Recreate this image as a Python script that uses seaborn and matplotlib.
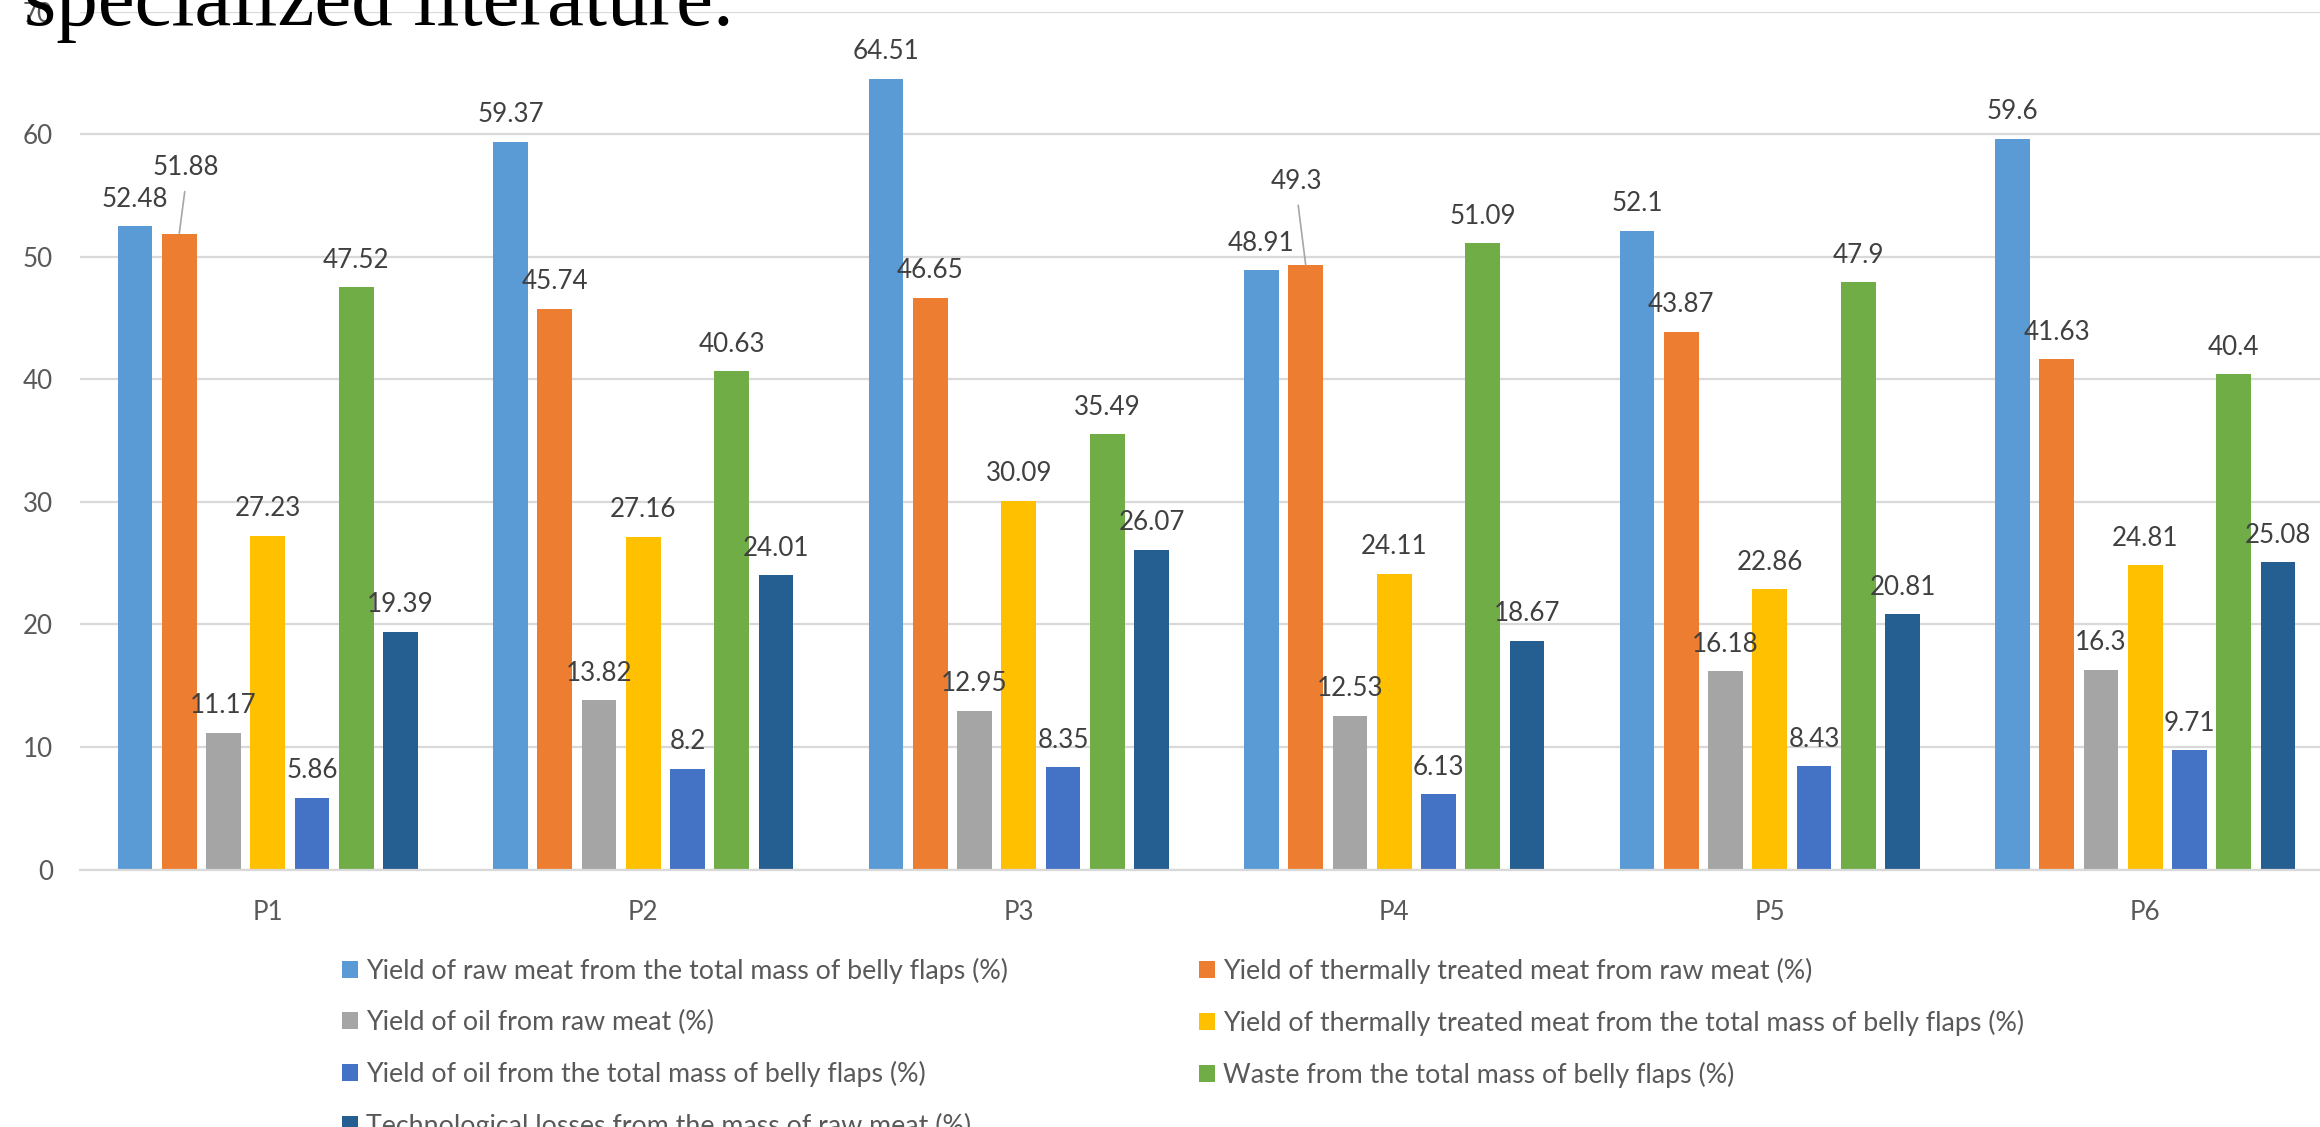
import numpy as np
import pandas as pd
import matplotlib
matplotlib.use("Agg")
import matplotlib.pyplot as plt
import seaborn as sns
from matplotlib.patches import Patch

# ---- data -------------------------------------------------------------
periods = ["P1", "P2", "P3", "P4", "P5", "P6"]

series_names = [
    "Yield of raw meat from the total mass of belly flaps (%)",
    "Yield of thermally treated meat from raw meat (%)",
    "Yield of oil from raw meat (%)",
    "Yield of thermally treated meat from the total mass of belly flaps (%)",
    "Yield of oil from the total mass of belly flaps (%)",
    "Waste from the total mass of belly flaps (%)",
    "Technological losses from the mass of raw meat (%)",
]

raw_meat_yield = [52.48, 59.37, 64.51, 48.91, 52.1, 59.6]
treated_from_raw = [51.88, 45.74, 46.65, 49.3, 43.87, 41.63]
oil_from_raw = [11.17, 13.82, 12.95, 12.53, 16.18, 16.3]
treated_from_total = [27.23, 27.16, 30.09, 24.11, 22.86, 24.81]
oil_from_total = [5.86, 8.2, 8.35, 6.13, 8.43, 9.71]
waste_from_total = [47.52, 40.63, 35.49, 51.09, 47.9, 40.4]
tech_losses = [19.39, 24.01, 26.07, 18.67, 20.81, 25.08]

series_values = [raw_meat_yield, treated_from_raw, oil_from_raw,
                 treated_from_total, oil_from_total, waste_from_total,
                 tech_losses]

colors = ["#5B9BD5", "#ED7D31", "#A5A5A5", "#FFC000",
          "#4472C4", "#70AD47", "#255E91"]

# labels lifted off their bar (with a leader line): (series, period) -> (dx px, extra lift px)
lifted_labels = {(1, "P1"): (7, 39), (1, "P4"): (-9, 57)}

# ---- figure -----------------------------------------------------------
W, H, DPI = 2320, 1127, 100
PX = 72.0 / DPI  # points per pixel

df = pd.DataFrame({
    "period": np.repeat(periods, len(series_names)),
    "series": series_names * len(periods),
    "value": [series_values[s][p] for p in range(len(periods))
              for s in range(len(series_names))],
})

sns.set_style("white")
plt.rcParams["font.family"] = ["Lato", "DejaVu Sans"]

fig = plt.figure(figsize=(W / DPI, H / DPI), dpi=DPI)
ax_left, ax_right = 80, 80 + 6 * 375.5
ax_top, ax_bottom = 11.5, 869.5
ax = fig.add_axes([ax_left / W, 1 - ax_bottom / H,
                   (ax_right - ax_left) / W, (ax_bottom - ax_top) / H])

sns.barplot(data=df, x="period", y="value", hue="series",
            order=periods, hue_order=series_names, palette=colors,
            width=0.825, gap=0.21, saturation=1, legend=False,
            edgecolor="none", linewidth=0, ax=ax)

ax.set_xlim(-0.5, len(periods) - 0.5)
ax.set_ylim(0, 70)
ax.set_yticks(range(0, 71, 10))
ax.set_xlabel("")
ax.set_ylabel("")
ax.yaxis.grid(True, color="#d9d9d9", linewidth=1.6)
ax.set_axisbelow(True)
for side in ["left", "right", "top"]:
    ax.spines[side].set_visible(False)
ax.spines["bottom"].set_color("#d9d9d9")
ax.spines["bottom"].set_linewidth(1.6)
ax.tick_params(axis="y", length=0, pad=27 * PX, labelsize=26 * PX,
               labelcolor="#595959")
ax.tick_params(axis="x", length=0, pad=31 * PX, labelsize=26 * PX,
               labelcolor="#595959")

# ---- value labels -----------------------------------------------------
for s_idx, container in enumerate(ax.containers):
    for p_idx, bar in enumerate(container):
        val = series_values[s_idx][p_idx]
        x = bar.get_x() + bar.get_width() / 2
        dx, lift = lifted_labels.get((s_idx, periods[p_idx]), (0, 0))
        if lift:
            ax.annotate(f"{val:g}", xy=(x, val),
                        xytext=(dx * PX, (19.5 + lift) * PX),
                        textcoords="offset points", ha="center",
                        va="baseline", fontsize=26 * PX, color="#404040",
                        arrowprops=dict(arrowstyle="-", color="#a6a6a6",
                                        lw=1.2, relpos=(0.5, 0.0),
                                        shrinkA=6, shrinkB=0))
        else:
            ax.annotate(f"{val:g}", xy=(x, val),
                        xytext=(0, 19.5 * PX), textcoords="offset points",
                        ha="center", va="baseline", fontsize=26 * PX,
                        color="#404040")

# ---- legend (two columns, row-wise order) -----------------------------
handles = [Patch(facecolor=c, edgecolor="none") for c in colors]
leg_kw = dict(loc="upper left", frameon=False, fontsize=26.7 * PX,
              handlelength=0.6, handleheight=0.6, handletextpad=0.3,
              labelspacing=0.97, borderpad=0, borderaxespad=0,
              labelcolor="#595959")
left_idx = [0, 2, 4, 6]
right_idx = [1, 3, 5]
fig.legend([handles[i] for i in left_idx], [series_names[i] for i in left_idx],
           bbox_to_anchor=(342 / W, 1 - 958 / H), **leg_kw)
fig.legend([handles[i] for i in right_idx], [series_names[i] for i in right_idx],
           bbox_to_anchor=(1199 / W, 1 - 958 / H), **leg_kw)

# ---- running text from the page above the chart -----------------------
fig.text(24 / W, 1 - 25 / H, "specialized literature.",
         family=["Liberation Serif", "DejaVu Serif"], fontsize=83 * PX,
         color="black", ha="left", va="baseline")

fig.savefig("out.png", dpi=DPI)
